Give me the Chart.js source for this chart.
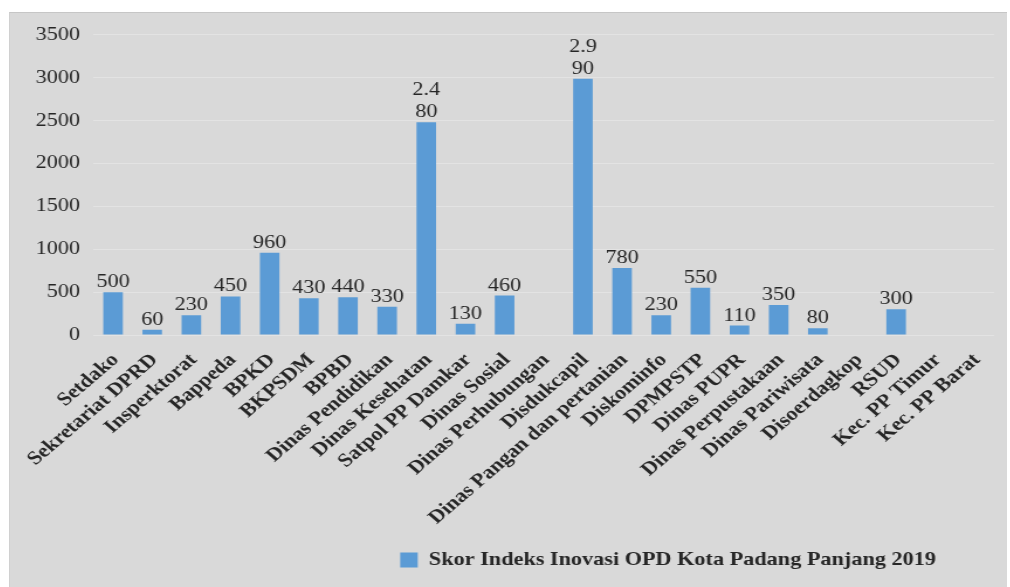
<!DOCTYPE html>
<html>
<head>
<meta charset="utf-8">
<script src="https://cdn.jsdelivr.net/npm/chart.js@4/dist/chart.umd.min.js"></script>
<style>
  html, body { margin: 0; padding: 0; background: #ffffff; width: 1010px; height: 587px; overflow: hidden; }
  .panel {
    position: absolute; left: 9px; top: 12px; width: 998px; height: 580px;
    background: #d9d9d9; border-top: 1px solid #c6c6c6; border-left: 1px solid #d0d0d0;
    box-sizing: border-box;
  }
  .wrap {
    position: absolute; left: 9px; top: 12px; width: 853px; height: 575px;
    transform: scaleX(1.17); transform-origin: 0 0;
  }
  canvas { display: block; }
</style>
</head>
<body>
<div class="panel"></div>
<div class="wrap"><canvas id="chart" width="853" height="575"></canvas></div>
<script>
// Innovation index score per regional agency (OPD), Padang Panjang 2019
const categories = [
  'Setdako', 'Sekretariat DPRD', 'Insperktorat', 'Bappeda', 'BPKD', 'BKPSDM', 'BPBD',
  'Dinas Pendidikan', 'Dinas Kesehatan', 'Satpol PP Damkar', 'Dinas Sosial',
  'Dinas Perhubungan', 'Disdukcapil', 'Dinas Pangan dan pertanian', 'Diskominfo',
  'DPMPSTP', 'Dinas PUPR', 'Dinas Perpustakaan', 'Dinas Pariwisata', 'Disoerdagkop',
  'RSUD', 'Kec. PP Timur', 'Kec. PP Barat'
];
const scores = [
  500, 60, 230, 450, 960, 430, 440, 330, 2480, 130, 460,
  null, 2990, 780, 230, 550, 110, 350, 80, null, 300, null, null
];
const seriesName = 'Skor Indeks Inovasi OPD Kota Padang Panjang 2019';
const yMin = 0, yMax = 3500, yStep = 500;

const SERIF = "'Liberation Serif', 'Times New Roman', serif";
const BAR = '#5b9bd5';
const INK = '#262626';

// thousands separator in Indonesian style: 2480 -> "2.480"
function formatScore(v) {
  return String(v).replace(/\B(?=(\d{3})+(?!\d))/g, '.');
}
// long numbers wrap onto two lines above the bar
function labelLines(v) {
  const s = formatScore(v);
  return s.length > 4 ? [s.slice(0, 3), s.slice(3)] : [s];
}

const valueLabels = {
  id: 'valueLabels',
  afterDatasetsDraw(chart) {
    const ctx = chart.ctx;
    const meta = chart.getDatasetMeta(0);
    ctx.save();
    ctx.font = '19px ' + SERIF;
    ctx.fillStyle = INK;
    ctx.textAlign = 'center';
    ctx.textBaseline = 'alphabetic';
    meta.data.forEach((bar, i) => {
      const v = chart.data.datasets[0].data[i];
      if (v === null || v === undefined) return;
      const lines = labelLines(v);
      let y = bar.y - 5;
      for (let k = lines.length - 1; k >= 0; k--) {
        ctx.fillText(lines[k], bar.x, y);
        y -= 22;
      }
    });
    ctx.restore();
  }
};

// legend sits right of centre under the axis labels
const legendShift = {
  id: 'legendShift',
  afterLayout(chart) {
    const lg = chart.legend;
    if (!lg) return;
    lg.left += 131;
    lg.right += 131;
  }
};

new Chart(document.getElementById('chart'), {
  type: 'bar',
  data: {
    labels: categories,
    datasets: [{
      label: seriesName,
      data: scores,
      backgroundColor: BAR,
      borderWidth: 0,
      barPercentage: 0.5,
      categoryPercentage: 1.0
    }]
  },
  options: {
    responsive: false,
    devicePixelRatio: 1,
    animation: false,
    layout: { padding: { left: 22.7, right: 11.1, top: 22, bottom: 7.5 } },
    plugins: {
      legend: {
        position: 'bottom',
        labels: {
          boxWidth: 15, boxHeight: 15, padding: 10,
          color: INK,
          font: { family: SERIF, size: 19, weight: 'bold' }
        }
      },
      tooltip: { enabled: false }
    },
    scales: {
      x: {
        grid: { display: false },
        border: { display: false },
        ticks: {
          autoSkip: false,
          minRotation: 45, maxRotation: 45,
          padding: 6,
          labelOffset: 2,
          color: INK,
          font: { family: SERIF, size: 19, weight: 'bold' }
        },
        afterFit(scale) { scale.height = 205.5; }
      },
      y: {
        min: yMin, max: yMax,
        grid: { color: '#e3e3e3', lineWidth: 1, drawTicks: false },
        border: { display: false },
        ticks: {
          stepSize: yStep,
          padding: 11.5,
          color: INK,
          font: { family: SERIF, size: 19 },
          callback: (v) => String(v)
        },
        afterFit(scale) { scale.width = 49.5; }
      }
    }
  },
  plugins: [valueLabels, legendShift]
});
</script>
</body>
</html>
